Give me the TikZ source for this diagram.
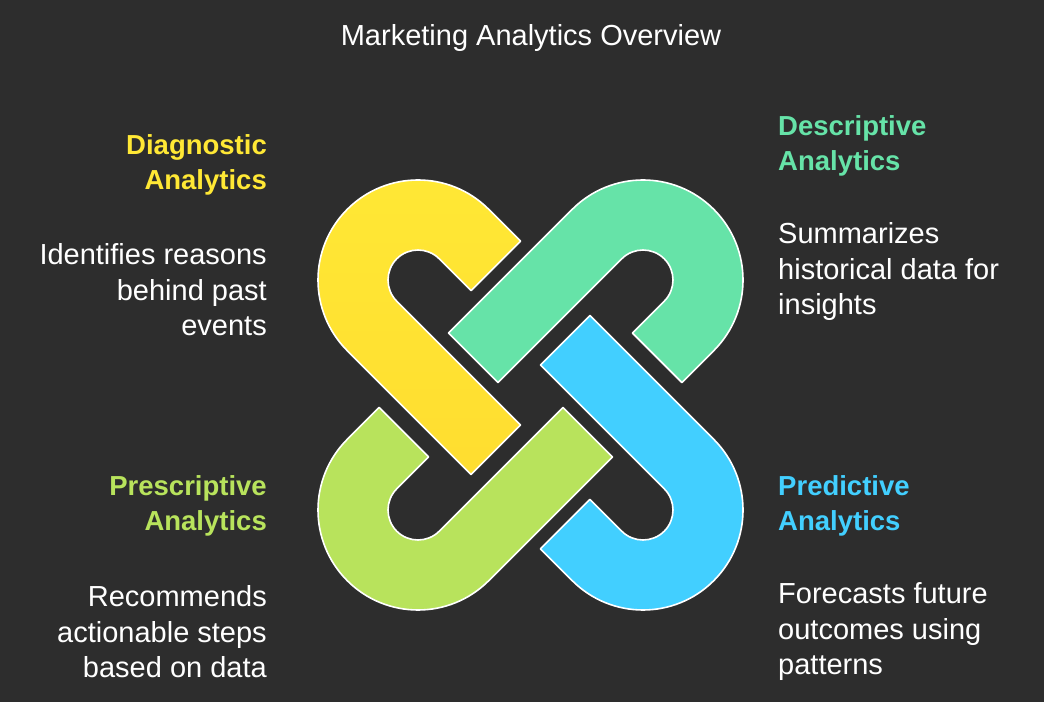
\documentclass[tikz,border=0pt]{standalone}
\usepackage{fontspec}
\setmainfont{Liberation Sans}
\definecolor{bg}{HTML}{2D2D2D}
\definecolor{cyel}{HTML}{FFE835}
\definecolor{cgrn}{HTML}{66E3A8}
\definecolor{cblu}{HTML}{42CFFF}
\definecolor{clim}{HTML}{B8E35C}
\tikzset{
  link/.style={draw=white, line width=1.6pt, line join=round},
  head/.style={font=\fontsize{27.5}{35}\selectfont\bfseries, inner sep=0pt},
  desc/.style={font=\fontsize{29}{35.5}\selectfont, text=white, inner sep=0pt},
}
\newcommand{\linkpath}{(45,100) -- (0,100) arc[start angle=90,end angle=270,radius=100] -- (175,-100) -- (175,-30) -- (0,-30) arc[start angle=270,end angle=90,radius=30] -- (45,30) -- cycle}
\begin{document}
\begin{tikzpicture}[x=1pt,y=1pt]
\fill[bg] (0,0) rectangle (1044,702);
\useasboundingbox (0,0) rectangle (1044,702);
\node[font=\fontsize{29}{30}\selectfont, text=white] (title) at (531,664) {Marketing Analytics Overview};
\begin{scope}[shift={(418,422)},rotate=-45]
  \path[link,top color=cyel,bottom color=cyel!90!orange] \linkpath;
\end{scope}
\begin{scope}[shift={(643,422)},rotate=-135]
  \path[link,fill=cgrn] \linkpath;
\end{scope}
\begin{scope}[shift={(643,192)},rotate=135]
  \path[link,fill=cblu] \linkpath;
\end{scope}
\begin{scope}[shift={(418,192)},rotate=45]
  \path[link,fill=clim] \linkpath;
\end{scope}
\node[head,text=cyel,anchor=east,align=right] (dh) at (267,537) {Diagnostic\\Analytics};
\node[desc,anchor=east,align=right] (dd) at (267,412) {Identifies reasons\\behind past\\events};
\node[head,text=cgrn,anchor=west,align=left] (sh) at (778,556) {Descriptive\\Analytics};
\node[desc,anchor=west,align=left] (sd) at (778,430) {Summarizes\\historical data for\\insights};
\node[head,text=clim,anchor=east,align=right] (ph) at (267,196) {Prescriptive\\Analytics};
\node[desc,anchor=east,align=right] (pd) at (267,70) {Recommends\\actionable steps\\based on data};
\node[head,text=cblu,anchor=west,align=left] (rh) at (778,196) {Predictive\\Analytics};
\node[desc,anchor=west,align=left] (rd) at (778,70) {Forecasts future\\outcomes using\\patterns};
\end{tikzpicture}
\end{document}
